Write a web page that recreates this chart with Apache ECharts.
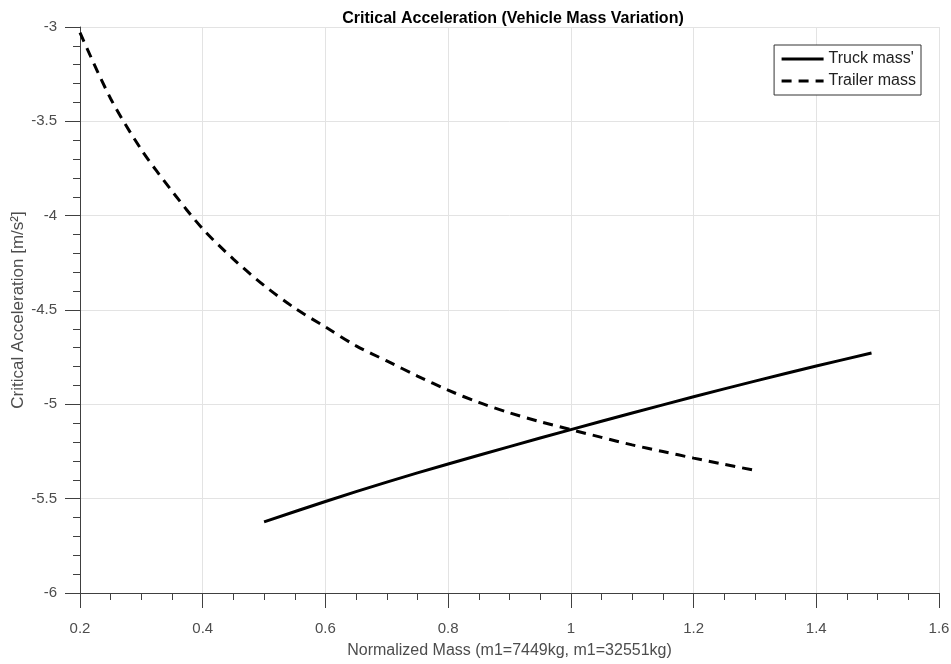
<!DOCTYPE html>
<html>
<head>
<meta charset="utf-8">
<script src="https://cdn.jsdelivr.net/npm/echarts@6/dist/echarts.min.js"></script>
<style>
  html, body { margin: 0; padding: 0; background: #fff; }
  #chart { width: 951px; height: 664px; }
</style>
</head>
<body>
<div id="chart"></div>
<script>
// values
var truckMass = [0.5, 0.6, 0.7, 0.8, 0.9, 1.0, 1.1, 1.2, 1.3, 1.4, 1.49];
var truckAcc = [-5.623, -5.515, -5.412, -5.316, -5.224, -5.134, -5.046, -4.960, -4.877, -4.797, -4.728];

var trailerMass = [0.2, 0.25, 0.3, 0.35, 0.4, 0.45, 0.5, 0.55, 0.6, 0.65, 0.7, 0.75,
  0.8, 0.85, 0.9, 0.95, 1.0, 1.05, 1.1, 1.15, 1.2, 1.25, 1.3];
var trailerAcc = [-3.03, -3.38, -3.65, -3.87, -4.07, -4.23, -4.37, -4.49, -4.59, -4.69, -4.77, -4.85,
  -4.925, -4.99, -5.045, -5.092, -5.134, -5.175, -5.215, -5.25, -5.285, -5.318, -5.35];

var xTicks = [0.2, 0.4, 0.6, 0.8, 1, 1.2, 1.4, 1.6];
var yTicks = [-6, -5.5, -5, -4.5, -4, -3.5, -3];

var seriesNames = ["Truck mass'", 'Trailer mass'];

var font = '"Liberation Sans", Arial, Helvetica, sans-serif';
var axisColor = '#404040';
var labelColor = '#4d4d4d';

function pairs(xs, ys) {
  return xs.map(function (x, i) { return [x, ys[i]]; });
}

var chart = echarts.init(document.getElementById('chart'), null, {renderer: 'canvas'});

var options = {
  backgroundColor: '#fff',
  animation: false,
  textStyle: { fontFamily: font },
  title: {
    text: 'Critical Acceleration (Vehicle Mass Variation)',
    left: 508,
    textAlign: 'center',
    top: 6,
    textStyle: { fontSize: 16, fontWeight: 'bold', color: '#000', fontFamily: font }
  },
  legend: {
    data: seriesNames,
    orient: 'vertical',
    right: 30,
    top: 45,
    padding: [6, 5, 6, 6],
    itemWidth: 42,
    itemHeight: 14,
    itemGap: 6,
    borderColor: '#333',
    borderWidth: 1,
    backgroundColor: '#fff',
    itemStyle: { opacity: 0 },
    lineStyle: { width: 3 },
    textStyle: { fontSize: 16, color: '#222', fontFamily: font }
  },
  grid: {
    left: 80,
    right: 12,
    top: 27,
    bottom: 71,
    containLabel: false,
    outerBoundsMode: 'none'
  },
  xAxis: {
    type: 'value',
    min: xTicks[0],
    max: xTicks[xTicks.length - 1],
    interval: 0.2,
    name: 'Normalized Mass (m1=7449kg, m1=32551kg)',
    nameLocation: 'middle',
    nameGap: 50,
    nameMoveOverlap: false,
    nameTextStyle: { fontSize: 16, color: labelColor, fontFamily: font },
    axisLine: { show: true, onZero: false, lineStyle: { color: axisColor, width: 1 } },
    axisTick: { show: true, inside: false, length: 15, lineStyle: { color: axisColor } },
    minorTick: { show: true, splitNumber: 4, length: 7, lineStyle: { color: axisColor } },
    axisLabel: { fontSize: 15, color: labelColor, margin: 28, fontFamily: font },
    splitLine: { show: true, lineStyle: { color: '#e3e3e3', width: 1 } }
  },
  yAxis: {
    type: 'value',
    min: yTicks[0],
    max: yTicks[yTicks.length - 1],
    interval: 0.5,
    name: 'Critical Acceleration [m/s²]',
    nameLocation: 'middle',
    nameGap: 53,
    nameMoveOverlap: false,
    nameTextStyle: { fontSize: 17, color: labelColor, fontFamily: font },
    axisLine: { show: true, onZero: false, lineStyle: { color: axisColor, width: 1 } },
    axisTick: { show: true, inside: false, length: 15, lineStyle: { color: axisColor } },
    minorTick: { show: true, splitNumber: 5, length: 7, lineStyle: { color: axisColor } },
    axisLabel: { fontSize: 15, color: labelColor, margin: 23, fontFamily: font },
    splitLine: { show: true, lineStyle: { color: '#e3e3e3', width: 1 } }
  },
  series: [
    {
      name: seriesNames[0],
      type: 'line',
      data: pairs(truckMass, truckAcc),
      smooth: 0.3,
      symbol: 'none',
      lineStyle: { color: '#000', width: 3, type: 'solid' },
      itemStyle: { color: '#000' }
    },
    {
      name: seriesNames[1],
      type: 'line',
      data: pairs(trailerMass, trailerAcc),
      smooth: 0.3,
      symbol: 'none',
      lineStyle: { color: '#000', width: 3, type: [10, 7] },
      itemStyle: { color: '#000' }
    }
  ]
};

chart.setOption(options);
</script>
</body>
</html>
